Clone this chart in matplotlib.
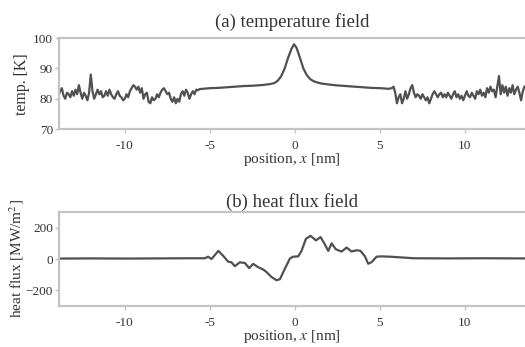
import matplotlib
matplotlib.use('Agg')
import matplotlib.pyplot as plt

# profil de température le long de x (nm, K)
pos_temp = [-13.9, -13.8, -13.7, -13.6, -13.5, -13.4, -13.3, -13.2, -13.1, -13.0,
            -12.9, -12.8, -12.7, -12.6, -12.5, -12.4, -12.3, -12.2, -12.1, -12.0,
            -11.9, -11.8, -11.7, -11.6, -11.5, -11.4, -11.3, -11.2, -11.1, -11.0,
            -10.9, -10.8, -10.7, -10.6, -10.5, -10.4, -10.3, -10.2, -10.1, -10.0,
            -9.9, -9.8, -9.7, -9.6, -9.5, -9.4, -9.3, -9.2, -9.1, -9.0,
            -8.9, -8.8, -8.7, -8.6, -8.5, -8.4, -8.3, -8.2, -8.1, -8.0,
            -7.9, -7.8, -7.7, -7.6, -7.5, -7.4, -7.3, -7.2, -7.1, -7.0,
            -6.9, -6.8, -6.7, -6.6, -6.5, -6.4, -6.3, -6.2, -6.1, -6.0,
            -5.9, -5.8, -5.7, -5.6, -5.4, -5.0, -4.5, -4.0, -3.5, -3.0,
            -2.5, -2.0, -1.5, -1.2, -1.0, -0.8, -0.6, -0.4, -0.2, -0.05,
            0.1, 0.3, 0.5, 0.7, 0.9, 1.1, 1.3, 1.6, 2.0, 2.5,
            3.0, 3.5, 4.0, 4.5, 5.0, 5.5, 5.7, 5.8, 5.9, 6.0,
            6.1, 6.2, 6.3, 6.4, 6.5, 6.6, 6.7, 6.8, 6.9, 7.0,
            7.1, 7.2, 7.3, 7.4, 7.5, 7.6, 7.7, 7.8, 7.9, 8.0,
            8.1, 8.2, 8.3, 8.4, 8.5, 8.6, 8.7, 8.8, 8.9, 9.0,
            9.1, 9.2, 9.3, 9.4, 9.5, 9.6, 9.7, 9.8, 9.9, 10.0,
            10.1, 10.2, 10.3, 10.4, 10.5, 10.6, 10.7, 10.8, 10.9, 11.0,
            11.1, 11.2, 11.3, 11.4, 11.5, 11.6, 11.7, 11.8, 11.9, 12.0,
            12.1, 12.2, 12.3, 12.4, 12.5, 12.6, 12.7, 12.8, 12.9, 13.0,
            13.1, 13.2, 13.3, 13.4, 13.5]
temp = [81.0, 82.5, 83.5, 81.0, 80.0, 82.0, 81.5, 80.5, 82.5, 81.0,
        83.0, 81.5, 84.5, 82.0, 80.0, 82.0, 81.0, 79.5, 82.0, 88.0,
        82.5, 80.0, 81.5, 83.0, 81.5, 82.5, 80.5, 81.0, 82.5, 81.0,
        83.0, 81.5, 80.5, 80.0, 81.5, 82.5, 81.0, 80.5, 79.5, 80.0,
        81.5, 80.5, 82.5, 83.5, 84.5, 84.0, 83.0, 84.0, 82.0, 83.5,
        80.0, 81.5, 82.0, 79.0, 78.5, 80.5, 79.5, 80.0, 81.5, 80.5,
        82.0, 83.0, 83.5, 82.5, 81.5, 82.0, 80.0, 79.0, 80.5, 78.5,
        80.0, 79.0, 81.5, 82.5, 81.0, 83.0, 82.0, 80.0, 81.5, 82.5,
        81.5, 83.0, 82.8, 83.2, 83.3, 83.5, 83.6, 83.8, 84.0, 84.2,
        84.3, 84.5, 84.8, 85.2, 86.0, 87.5, 90.0, 93.5, 96.5, 98.0,
        96.8, 93.5, 90.0, 87.8, 86.5, 85.8, 85.4, 85.0, 84.7, 84.4,
        84.2, 84.0, 83.8, 83.6, 83.5, 83.3, 83.5, 84.0, 82.0, 78.5,
        80.5, 81.5, 78.5, 80.0, 82.5, 80.0, 81.5, 83.5, 84.5, 82.0,
        80.5, 81.5, 81.0, 80.0, 81.5, 80.5, 79.5, 80.5, 78.5, 80.0,
        81.5, 82.5, 81.5, 80.5, 81.5, 82.0, 80.5, 81.5, 80.5, 82.0,
        81.0, 80.0, 81.5, 82.5, 80.5, 81.5, 80.0, 81.0, 79.5, 81.0,
        82.5, 81.0, 80.5, 82.0, 81.0, 80.0, 82.5, 81.5, 83.0, 81.0,
        82.0, 80.5, 83.5, 82.0, 84.0, 82.5, 83.0, 80.5, 84.0, 87.5,
        81.5, 84.5, 82.0, 84.0, 81.0, 83.5, 82.0, 84.5, 81.5, 83.0,
        84.0, 82.0, 79.5, 82.5, 84.0]

# profil du flux de chaleur (nm, MW/m2)
pos_flux = [-13.9, -12.0, -10.0, -8.0, -6.18, -5.29, -5.1, -4.9, -4.5, -4.22,
            -3.92, -3.73, -3.53, -3.24, -2.94, -2.69, -2.45, -2.16, -1.86, -1.67,
            -1.37, -1.08, -0.88, -0.59, -0.29, -0.1, 0.2, 0.39, 0.65, 0.92,
            1.24, 1.51, 1.76, 1.96, 2.16, 2.41, 2.75, 3.04, 3.33, 3.63,
            3.86, 4.12, 4.31, 4.51, 4.8, 5.1, 5.59, 7.0, 9.0, 11.0,
            13.5]
flux = [3, 4, 3, 4, 5, 5, 15, 0, 52, 21,
        -17, -21, -46, -21, -25, -58, -31, -52, -67, -83,
        -115, -135, -129, -62, 4, 15, 17, 52, 129, 148,
        119, 140, 94, 52, 100, 62, 48, 73, 48, 56,
        52, 17, -30, -20, 15, 17, 15, 5, 4, 5,
        4]

temp_ticks = [70, 80, 90, 100]
flux_ticks = [-200, 0, 200]
x_ticks = [-10, -5, 0, 5, 10]

plt.rcParams['font.family'] = ['Liberation Serif', 'DejaVu Serif']
plt.rcParams['mathtext.fontset'] = 'stix'

figure = plt.figure(figsize=(5.25, 3.47), dpi=100)
ax1 = figure.add_axes([0.112, 0.628, 0.888, 0.262])
ax2 = figure.add_axes([0.112, 0.118, 0.888, 0.271])

spine_col = '#c4c4c4'
text_col = '#333333'
line_col = '#505050'

for ax in (ax1, ax2):
    for side in ('left', 'top', 'bottom'):
        ax.spines[side].set_color(spine_col)
        ax.spines[side].set_linewidth(1.6)
    ax.spines['right'].set_visible(False)
    ax.set_xlim(-13.88, 13.53)
    ax.set_xticks(x_ticks)
    ax.set_xticklabels([str(t) for t in x_ticks])
    ax.tick_params(colors=spine_col, labelcolor=text_col, labelsize=9.5,
                   length=3, width=1, pad=5)
    ax.set_xlabel('position, $x$ [nm]', fontsize=11, color=text_col, labelpad=-1)

ax1.plot(pos_temp, temp, color=line_col, linewidth=1.6)
ax1.set_ylim(70, 100)
ax1.set_yticks(temp_ticks)
ax1.tick_params(axis='y', pad=1)
ax1.set_ylabel('temp. [K]', fontsize=11.5, color=text_col, labelpad=2)
ax1.set_title('(a) temperature field', fontsize=13.5, color=text_col, pad=8)

ax2.plot(pos_flux, flux, color=line_col, linewidth=1.6)
ax2.set_ylim(-300, 300)
ax2.set_yticks(flux_ticks)
ax2.tick_params(axis='y', pad=1)
ax2.set_ylabel('heat flux [MW/m$^2$]', fontsize=11, color=text_col, labelpad=0)
ax2.set_title('(b) heat flux field', fontsize=13.5, color=text_col, pad=4)

figure.savefig('out.png', dpi=100)
